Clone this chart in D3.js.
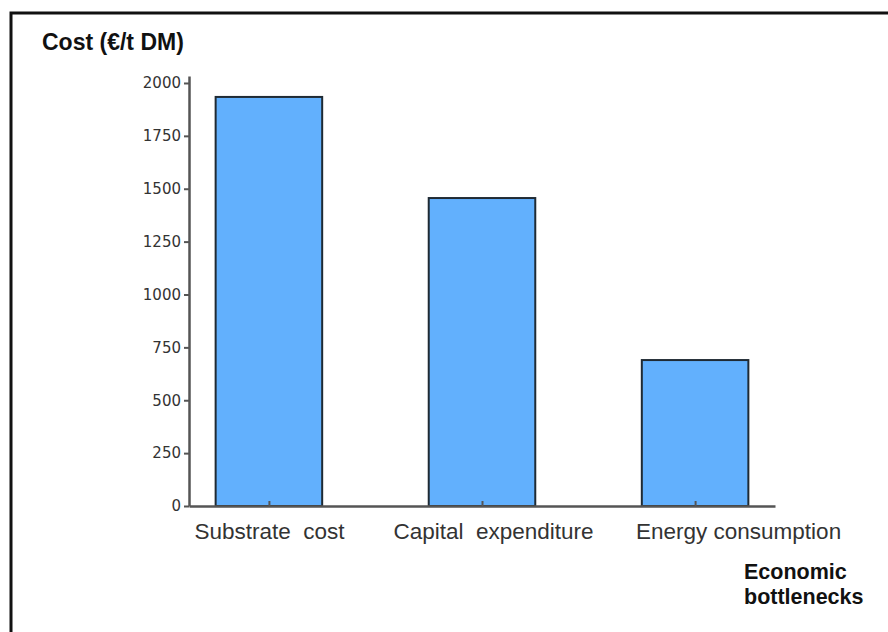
<!DOCTYPE html>
<html>
<head>
<meta charset="utf-8">
<script src="https://cdn.jsdelivr.net/npm/d3@7"></script>
<style>
    body { margin: 0; background: #fff; }
    svg { display: block; }
</style>
</head>
<body>
<svg id="chart" width="888" height="632"></svg>
<script>
// chart values
const categories = ['Substrate  cost', 'Capital  expenditure', 'Energy consumption'];
const costs = [1934, 1456, 690];
const yTicks = [0, 250, 500, 750, 1000, 1250, 1500, 1750, 2000];

const svg = d3.select('#chart');
const plot = { left: 189, right: 775, top: 76, bottom: 506 };
// the category labels in the original sit a little right of their ticks
const labelShift = [0, 11, 43];

// outer frame, open on the right and bottom edges
svg.append('rect')
    .attr('x', 11).attr('y', 13)
    .attr('width', 890).attr('height', 640)
    .attr('fill', 'none')
    .attr('stroke', '#111')
    .attr('stroke-width', 3);

const xScale = d3.scaleLinear([-0.375, categories.length - 0.625], [plot.left, plot.right]);
const yScale = d3.scaleLinear([0, 2033], [plot.bottom, plot.top]);
const barWidth = xScale(0.5) - xScale(0);

// bars
svg.append('g')
    .selectAll('rect')
    .data(costs)
    .enter()
    .append('rect')
    .attr('x', (d, i) => xScale(i) - barWidth / 2)
    .attr('y', d => yScale(d))
    .attr('width', barWidth)
    .attr('height', d => yScale(0) - yScale(d))
    .attr('fill', '#62b0fd')
    .attr('stroke', '#1f2a33')
    .attr('stroke-width', 2);

// y axis
const yAxis = d3.axisLeft(yScale).tickValues(yTicks).tickFormat(d3.format('d'))
    .tickSize(5).tickSizeOuter(0);
const gy = svg.append('g')
    .attr('transform', `translate(${plot.left},0)`)
    .call(yAxis);
gy.select('.domain').attr('stroke', '#555').attr('stroke-width', 2.5);
gy.selectAll('.tick line').attr('stroke', '#555').attr('stroke-width', 2);
gy.selectAll('.tick text')
    .attr('x', -8)
    .attr('fill', '#333')
    .style('font-family', '"DejaVu Sans", sans-serif')
    .style('font-size', '15px');

// x axis
const xAxis = d3.axisBottom(xScale)
    .tickValues(d3.range(categories.length))
    .tickFormat(i => categories[i])
    .tickSizeInner(-5).tickSizeOuter(0);
const gx = svg.append('g')
    .attr('transform', `translate(0,${plot.bottom})`)
    .call(xAxis);
gx.select('.domain').attr('stroke', '#555').attr('stroke-width', 2.5);
gx.selectAll('.tick line').attr('stroke', '#555').attr('stroke-width', 2);
gx.selectAll('.tick text')
    .attr('y', 17)
    .attr('x', (d, i) => labelShift[i])
    .attr('fill', '#333')
    .style('white-space', 'pre')
    .style('font-family', '"Liberation Sans", Arial, sans-serif')
    .style('font-size', '22.5px');

// axis titles
svg.append('text')
    .attr('x', 42).attr('y', 50)
    .style('font-family', '"Liberation Sans", Arial, sans-serif')
    .style('font-weight', 'bold')
    .style('font-size', '23px')
    .attr('fill', '#111')
    .text('Cost (€/t DM)');

svg.append('text')
    .attr('x', 744).attr('y', 579)
    .style('font-family', '"Liberation Sans", Arial, sans-serif')
    .style('font-weight', 'bold')
    .style('font-size', '21.5px')
    .attr('fill', '#111')
    .text('Economic');

svg.append('text')
    .attr('x', 744).attr('y', 604)
    .style('font-family', '"Liberation Sans", Arial, sans-serif')
    .style('font-weight', 'bold')
    .style('font-size', '21.5px')
    .attr('fill', '#111')
    .text('bottlenecks');
</script>
</body>
</html>
